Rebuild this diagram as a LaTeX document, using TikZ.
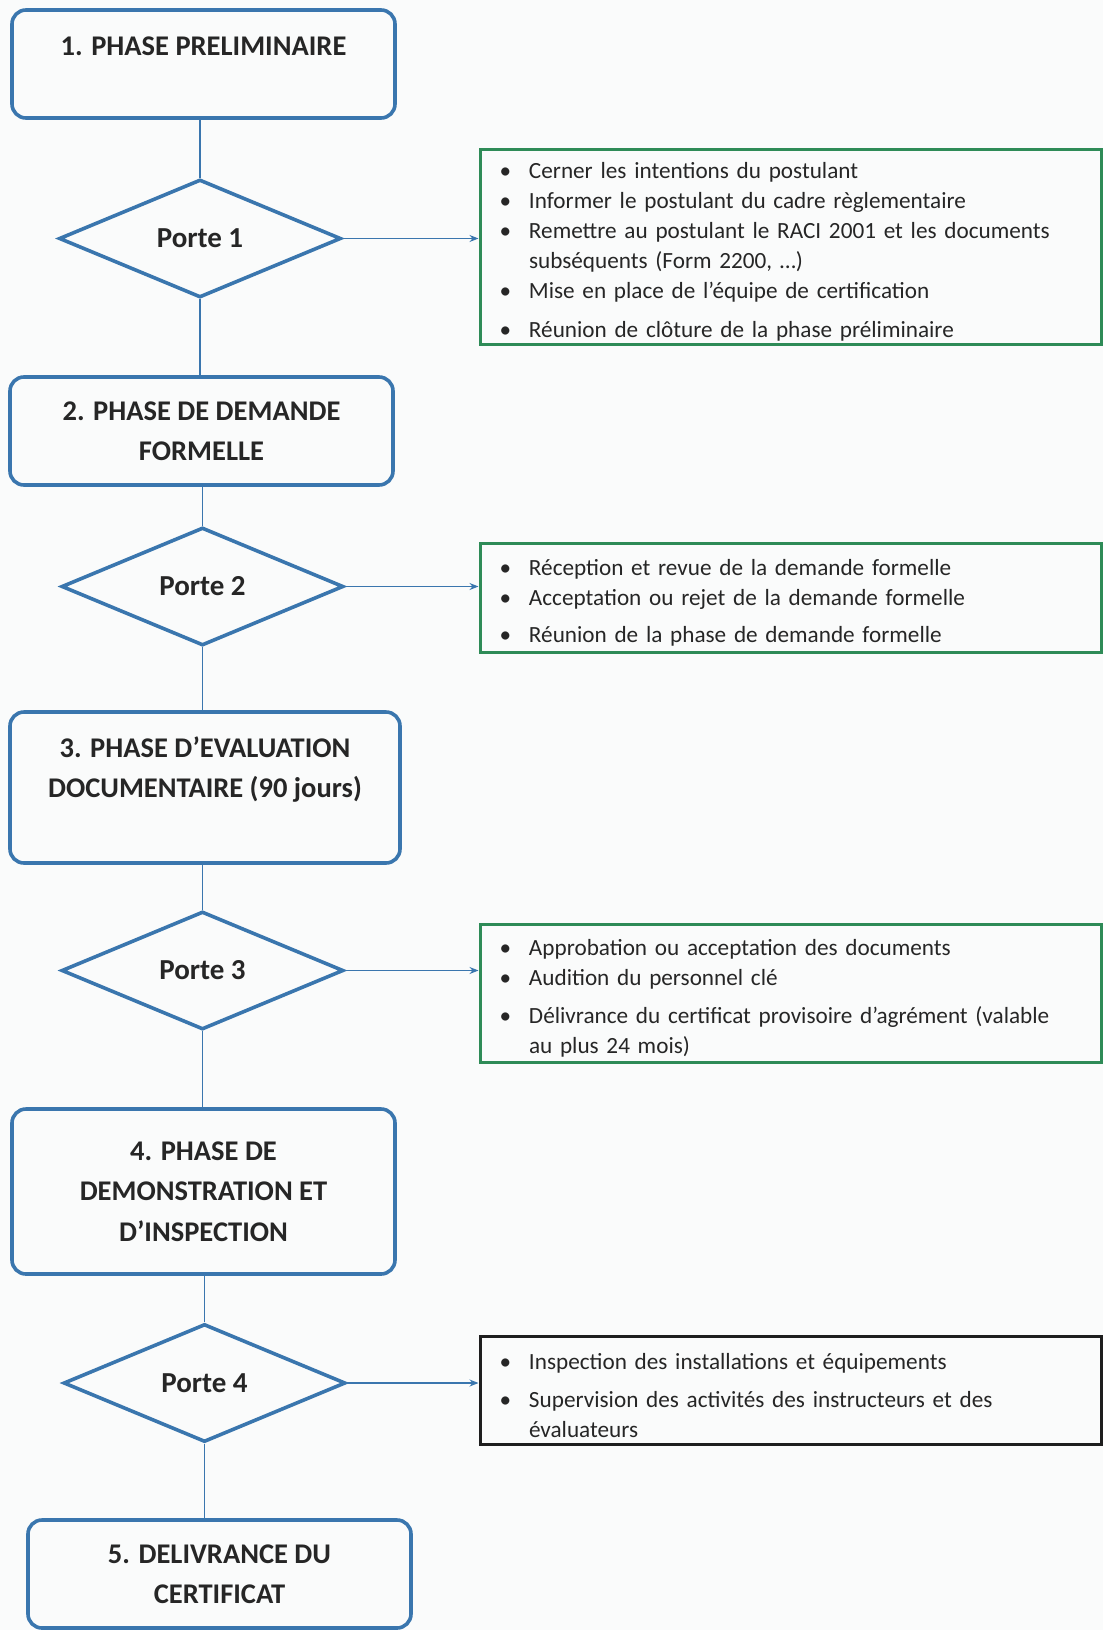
\documentclass[tikz,border=0pt]{standalone}
\usepackage{fontspec}
\setmainfont{Carlito}
\usetikzlibrary{shapes.geometric,arrows.meta}
\definecolor{bblue}{HTML}{3A76AE}
\definecolor{ggreen}{HTML}{2E8B57}
\definecolor{dkbox}{HTML}{1E1E1E}
\definecolor{txt}{HTML}{262626}
\definecolor{bg}{HTML}{FAFBFB}
\newcommand{\itm}[1]{\hspace*{6pt}\makebox[29.5pt][l]{•}#1}
\newcommand{\itmc}[1]{\hspace*{35.5pt}#1}
\newcommand{\tstr}{\rule{0pt}{27pt}}
\begin{document}
\begin{tikzpicture}[x=1pt,y=-1pt,
  phase/.style={draw=bblue, line width=3.6pt, rounded corners=14pt, text=txt,
    font=\fontsize{28.5}{40.5}\selectfont\bfseries, align=center, inner sep=0pt},
  gate/.style={diamond, draw=bblue, line width=3.6pt, text=txt, inner sep=0pt,
    font=\fontsize{29}{32}\selectfont\bfseries, minimum width=282pt, minimum height=118pt},
  notes/.style={draw=ggreen, line width=3pt, text=txt, align=left, inner sep=0pt,
    font=\fontsize{23.2}{30}\selectfont, minimum width=621pt, text width=594pt},
  link/.style={draw=bblue, line width=1.6pt},
  arr/.style={draw=bblue, line width=1.2pt, -{Stealth[length=9pt,width=7pt]}}
]
\fill[bg] (0,0) rectangle (1103,1630);
\useasboundingbox (0,0) rectangle (1103,1630);

% phases
\node[phase, minimum width=383pt, minimum height=108pt] (b1) at (203.5,64) {1. PHASE PRELIMINAIRE\\[-16.5pt] \strut};
\node[phase, minimum width=383pt, minimum height=108pt] (b2) at (201.5,431) {2. PHASE DE DEMANDE\\FORMELLE};
\node[phase, minimum width=390pt, minimum height=151pt] (b3) at (205,787.5) {3. PHASE D’EVALUATION\\DOCUMENTAIRE (90 jours)\\[-12pt] \strut};
\node[phase, minimum width=383pt, minimum height=165pt] (b4) at (203.5,1191.5) {4. PHASE DE\\DEMONSTRATION ET\\D’INSPECTION};
\node[phase, minimum width=383pt, minimum height=108pt] (b5) at (219.5,1574) {5. DELIVRANCE DU\\CERTIFICAT};

% gates
\node[gate] (d1) at (200,238.5) {Porte 1};
\node[gate] (d2) at (202.5,586.5) {Porte 2};
\node[gate] (d3) at (202.5,970.5) {Porte 3};
\node[gate] (d4) at (204.5,1383) {Porte 4};

% notes
\node[notes, minimum height=195pt] (n1) at (790.5,246.5) {%
\tstr\itm{Cerner les intentions du postulant}\\
\itm{Informer le postulant du cadre règlementaire}\\
\itm{Remettre au postulant le RACI 2001 et les documents}\\
\itmc{subséquents (Form 2200, …)}\\
\itm{Mise en place de l’équipe de certification}\\[9pt]
\itm{Réunion de clôture de la phase préliminaire}};

\node[notes, minimum height=109pt] (n2) at (790.5,597.5) {%
\tstr\itm{Réception et revue de la demande formelle}\\
\itm{Acceptation ou rejet de la demande formelle}\\[7pt]
\itm{Réunion de la phase de demande formelle}};

\node[notes, minimum height=138pt] (n3) at (790.5,993) {%
\tstr\itm{Approbation ou acceptation des documents}\\
\itm{Audition du personnel clé}\\[8pt]
\itm{Délivrance du certificat provisoire d’agrément (valable}\\
\itmc{au plus 24 mois)}};

\node[notes, draw=dkbox, minimum height=108pt] (n4) at (790.5,1390) {%
\tstr\itm{Inspection des installations et équipements}\\[8pt]
\itm{Supervision des activités des instructeurs et des}\\
\itmc{évaluateurs}};

% vertical links
\draw[link] (b1.south -| d1.north) -- (d1.north);
\draw[link] (d1.south) -- (d1.south |- b2.north);
\draw[link] (b2.south -| d2.north) -- (d2.north);
\draw[link] (d2.south) -- (d2.south |- b3.north);
\draw[link] (b3.south -| d3.north) -- (d3.north);
\draw[link] (d3.south) -- (d3.south |- b4.north);
\draw[link] (b4.south -| d4.north) -- (d4.north);
\draw[link] (d4.south) -- (d4.south |- b5.north);

% arrows to notes
\draw[arr] (d1.east) -- (d1.east -| n1.west);
\draw[arr] (d2.east) -- (d2.east -| n2.west);
\draw[arr] (d3.east) -- (d3.east -| n3.west);
\draw[arr] (d4.east) -- (d4.east -| n4.west);
\end{tikzpicture}
\end{document}
